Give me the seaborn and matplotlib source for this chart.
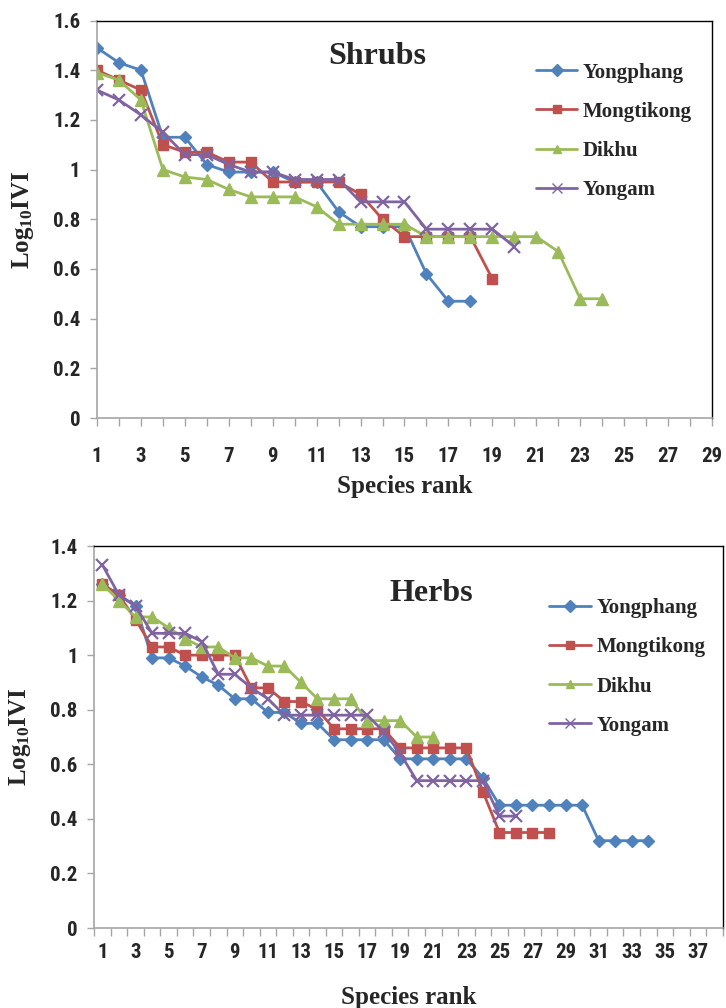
import matplotlib
matplotlib.use("Agg")
import matplotlib.pyplot as plt
import matplotlib.font_manager as fm
import seaborn as sns
import numpy as np

# ---------------- data ----------------
sites = ["Yongphang", "Mongtikong", "Dikhu", "Yongam"]

shrub_yongphang = [1.49, 1.43, 1.40, 1.13, 1.13, 1.02, 0.99, 0.99, 0.99, 0.95, 0.95, 0.83, 0.77, 0.77, 0.77, 0.58, 0.47, 0.47]
shrub_mongtikong = [1.40, 1.36, 1.32, 1.10, 1.07, 1.07, 1.03, 1.03, 0.95, 0.95, 0.95, 0.95, 0.90, 0.80, 0.73, 0.73, 0.73, 0.73, 0.56]
shrub_dikhu = [1.39, 1.36, 1.28, 1.00, 0.97, 0.96, 0.92, 0.89, 0.89, 0.89, 0.85, 0.78, 0.78, 0.78, 0.78, 0.73, 0.73, 0.73, 0.73, 0.73, 0.73, 0.67, 0.48, 0.48]
shrub_yongam = [1.32, 1.28, 1.22, 1.15, 1.06, 1.06, 1.02, 0.99, 0.99, 0.96, 0.96, 0.96, 0.87, 0.87, 0.87, 0.76, 0.76, 0.76, 0.76, 0.69]

herb_yongphang = [1.26, 1.22, 1.18, 0.99, 0.99, 0.96, 0.92, 0.89, 0.84, 0.84, 0.79, 0.79, 0.75, 0.75, 0.69, 0.69, 0.69, 0.69, 0.62, 0.62, 0.62, 0.62, 0.62, 0.55, 0.45, 0.45, 0.45, 0.45, 0.45, 0.45, 0.32, 0.32, 0.32, 0.32]
herb_mongtikong = [1.26, 1.22, 1.13, 1.03, 1.03, 1.00, 1.00, 1.00, 1.00, 0.88, 0.88, 0.83, 0.83, 0.80, 0.73, 0.73, 0.73, 0.73, 0.66, 0.66, 0.66, 0.66, 0.66, 0.50, 0.35, 0.35, 0.35, 0.35]
herb_dikhu = [1.26, 1.20, 1.14, 1.14, 1.10, 1.06, 1.03, 1.03, 0.99, 0.99, 0.96, 0.96, 0.90, 0.84, 0.84, 0.84, 0.76, 0.76, 0.76, 0.70, 0.70]
herb_yongam = [1.33, 1.22, 1.18, 1.08, 1.08, 1.08, 1.05, 0.93, 0.93, 0.88, 0.84, 0.78, 0.78, 0.78, 0.78, 0.78, 0.78, 0.72, 0.64, 0.54, 0.54, 0.54, 0.54, 0.54, 0.41, 0.41]

shrub_yticks = [0, 0.2, 0.4, 0.6, 0.8, 1.0, 1.2, 1.4, 1.6]
shrub_yticklabels = ["0", "0.2", "0.4", "0.6", "0.8", "1", "1.2", "1.4", "1.6"]
herb_yticks = [0, 0.2, 0.4, 0.6, 0.8, 1.0, 1.2, 1.4]
herb_yticklabels = ["0", "0.2", "0.4", "0.6", "0.8", "1", "1.2", "1.4"]
shrub_xticklabels = [str(v) for v in range(1, 30, 2)]
herb_xticklabels = [str(v) for v in range(1, 38, 2)]

colors = ["#4F81BD", "#C0504D", "#9BBB59", "#8064A2"]
markers = ["D", "s", "^", "x"]
msizes = [6.5, 6.5, 8, 8]

sns.set_theme(style="white")

installed = {f.name for f in fm.fontManager.ttflist}
tick_family = [f for f in ["Liberation Sans Narrow", "Roboto Condensed", "Lato", "DejaVu Sans"] if f in installed]
serif_family = [f for f in ["Liberation Serif", "DejaVu Serif"] if f in installed]
plt.rcParams["font.family"] = tick_family
plt.rcParams["mathtext.fontset"] = "custom"
plt.rcParams["mathtext.rm"] = serif_family[0] + ":bold"
plt.rcParams["mathtext.bf"] = serif_family[0] + ":bold"
plt.rcParams["mathtext.it"] = serif_family[0] + ":bold"

fig = plt.figure(figsize=(7.26, 10.08), dpi=100)
ax1 = fig.add_axes([97 / 726, 1 - 418 / 1008, (712 - 97) / 726, (418 - 20.5) / 1008])
ax2 = fig.add_axes([94.2 / 726, 1 - 928 / 1008, (722.7 - 94.2) / 726, (928 - 546) / 1008])

axis_grey = "#A6A6A6"
TICK_FS = 15
LABEL_FS = 18
LEG_FS = 15


def draw(ax, series):
    for name, vals, c, m, ms in zip(sites, series, colors, markers, msizes):
        ranks = list(range(1, len(vals) + 1))
        sns.lineplot(x=ranks, y=vals, color=c, marker=m, markersize=ms,
                     markeredgecolor=c, markerfacecolor=c,
                     markeredgewidth=1.6 if m == "x" else 1.0,
                     linewidth=2.0, ax=ax, label=name, legend=False)
    for side in ["left", "bottom"]:
        ax.spines[side].set_color(axis_grey)
        ax.spines[side].set_linewidth(1.2)
    for side in ["top", "right"]:
        ax.spines[side].set_color("black")
        ax.spines[side].set_linewidth(1.0)
    ax.set_ylabel(r"$\mathrm{Log}_{\mathrm{10}}\mathrm{IVI}$", fontsize=LABEL_FS, labelpad=12)
    ax.tick_params(axis="y", which="major", direction="out", length=5, width=1, color=axis_grey,
                   pad=7, left=True)
    handles = [plt.Line2D([], [], color=c, marker=m, linewidth=2.0,
                          markersize=6 if m != "x" else 7,
                          markeredgewidth=1.0)
               for c, m in zip(colors, markers)]
    return handles


legend_kw = dict(loc="upper left", frameon=False,
                 prop={"family": serif_family, "weight": "bold", "size": LEG_FS},
                 handlelength=2.0, handletextpad=0.25, labelspacing=0.92, borderaxespad=0)

# ---- Shrubs ----
h = draw(ax1, [shrub_yongphang, shrub_mongtikong, shrub_dikhu, shrub_yongam])
ax1.set_xlim(1, 29)
ax1.set_ylim(0, 1.6)
ax1.set_yticks(shrub_yticks)
ax1.set_yticklabels(shrub_yticklabels, fontweight="bold", fontsize=TICK_FS)
ax1.set_xticks(range(1, 30, 2))
ax1.set_xticklabels(shrub_xticklabels, fontweight="bold", fontsize=TICK_FS)
ax1.set_xticks(range(1, 30), minor=True)
ax1.tick_params(axis="x", which="both", direction="out", length=6, width=1, color=axis_grey,
                bottom=True, pad=15)
ax1.set_xlabel("Species rank", family=serif_family, fontweight="bold", fontsize=LABEL_FS, labelpad=6)
ax1.text(0.455, 0.91, "Shrubs", transform=ax1.transAxes, family=serif_family,
         fontweight="bold", fontsize=23, ha="center", va="center")
ax1.legend(h, sites, bbox_to_anchor=(0.7, 0.915), **legend_kw)

# ---- Herbs ----
h = draw(ax2, [herb_yongphang, herb_mongtikong, herb_dikhu, herb_yongam])
ax2.set_xlim(0.5, 38.5)
ax2.set_ylim(0, 1.4)
ax2.set_yticks(herb_yticks)
ax2.set_yticklabels(herb_yticklabels, fontweight="bold", fontsize=TICK_FS)
ax2.set_xticks(range(1, 38, 2))
ax2.set_xticklabels(herb_xticklabels, fontweight="bold", fontsize=TICK_FS)
ax2.set_xticks(np.arange(0.5, 38.6, 1.0), minor=True)
ax2.tick_params(axis="x", which="major", length=0, pad=11)
ax2.tick_params(axis="x", which="minor", direction="out", length=6, width=1, color=axis_grey, bottom=True)
ax2.set_xlabel("Species rank", family=serif_family, fontweight="bold", fontsize=LABEL_FS, labelpad=17)
ax2.text(0.537, 0.875, "Herbs", transform=ax2.transAxes, family=serif_family,
         fontweight="bold", fontsize=23, ha="center", va="center")
ax2.legend(h, sites, bbox_to_anchor=(0.711, 0.885), **legend_kw)

fig.savefig("out.png", dpi=100)
